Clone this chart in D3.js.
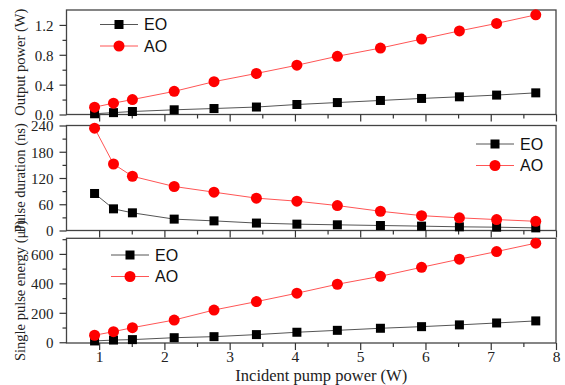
<!DOCTYPE html>
<html>
<head>
<meta charset="utf-8">
<script src="https://cdn.jsdelivr.net/npm/d3@7"></script>
<style>
  body { margin: 0; background: #fff; }
  svg { display: block; }
</style>
</head>
<body>
<div id="chart"></div>
<script>
// -- DATA --
var pumpPower  = [0.93, 1.22, 1.51, 2.15, 2.76, 3.41, 4.03, 4.65, 5.31, 5.94, 6.52, 7.09, 7.69]

var eoPower    = [0.01, 0.025, 0.04, 0.063, 0.08, 0.10, 0.134, 0.16, 0.188, 0.215, 0.237, 0.26, 0.29]
var aoPower    = [0.098, 0.152, 0.20, 0.31, 0.44, 0.55, 0.66, 0.78, 0.89, 1.01, 1.12, 1.22, 1.335]

var eoDuration = [84.6, 49.5, 40.4, 26, 22, 17, 14.5, 13, 11.4, 10, 8.4, 7.6, 6]
var aoDuration = [234, 152, 124, 100.6, 87.6, 74, 67, 57, 44, 34, 29, 25, 21]

var eoEnergy   = [9, 15, 18, 31, 38, 52, 68, 81, 95, 106, 118, 131, 145]
var aoEnergy   = [47.6, 72, 99, 151, 219, 276, 333, 394, 448, 509, 564, 616, 673]

var seriesNames = ['EO', 'AO']

var xTicks = [1, 2, 3, 4, 5, 6, 7, 8]

// -- LAYOUT --
var width = 565
var height = 385
var left = 66.5
var right = 556

var panels = [
  { top: 10, bottom: 114.5, domain: [0, 1.4], ticks: [0, 0.4, 0.8, 1.2], minor: [0.2, 0.6, 1.0],
    fmt: d3.format('.1f'), title: 'Output power (W)', eo: eoPower, ao: aoPower,
    legend: { x: 100, y: 24.5 } },
  { top: 125.5, bottom: 230.5, domain: [0, 240], ticks: [0, 60, 120, 180, 240], minor: [30, 90, 150, 210],
    fmt: d3.format('d'), title: 'Pulse duration (ns)', eo: eoDuration, ao: aoDuration,
    legend: { x: 476, y: 144 } },
  { top: 238.3, bottom: 343, domain: [-5, 706], ticks: [0, 200, 400, 600], minor: [100, 300, 500, 700],
    fmt: d3.format('d'), title: 'Single pulse energy (\u03bcJ)', eo: eoEnergy, ao: aoEnergy,
    legend: { x: 111, y: 255 } }
]

var svg = d3.select('#chart').append('svg')
  .attr('width', width)
  .attr('height', height)

var xMap = d3.scaleLinear()
  .domain([0.5, 8])
  .range([left, right])

var xMinor = d3.range(1.5, 8, 1)

function drawPanel(p, i) {
  var g = svg.append('g')

  var yMap = d3.scaleLinear()
    .domain(p.domain)
    .range([p.bottom, p.top])

  // frame
  g.append('rect')
    .attr('x', left)
    .attr('y', p.top)
    .attr('width', right - left)
    .attr('height', p.bottom - p.top)
    .style('fill', 'none')
    .style('stroke', '#444')
    .style('stroke-width', 1.3)

  // x axis
  var isLast = i == panels.length - 1
  var xAxis = d3.axisBottom(xMap)
    .tickValues(xTicks)
    .tickSize(7)
    .tickSizeOuter(0)
    .tickFormat(isLast ? d3.format('d') : '')

  var gx = g.append('g')
    .attr('transform', 'translate(0,' + p.bottom + ')')
    .call(xAxis)
  gx.select('.domain').remove()

  var gxm = g.append('g')
    .attr('transform', 'translate(0,' + p.bottom + ')')
    .call(d3.axisBottom(xMap).tickValues(xMinor).tickSize(4).tickFormat(''))
  gxm.select('.domain').remove()

  // y axis
  var gy = g.append('g')
    .attr('transform', 'translate(' + left + ',0)')
    .call(d3.axisLeft(yMap).tickValues(p.ticks).tickSize(7).tickSizeOuter(0).tickFormat(p.fmt))
  gy.select('.domain').remove()

  var gym = g.append('g')
    .attr('transform', 'translate(' + left + ',0)')
    .call(d3.axisLeft(yMap).tickValues(p.minor.filter(v => yMap(v) >= p.top)).tickSize(4).tickFormat(''))
  gym.select('.domain').remove()

  g.selectAll('.tick line')
    .style('stroke', '#333')
    .style('stroke-width', 1.2)

  gy.selectAll('text')
    .attr('x', -13)
    .attr('dy', '0.36em')
    .style('font-family', '"Liberation Serif", "DejaVu Serif", serif')
    .style('font-size', '15px')
    .style('fill', '#222')

  gx.selectAll('text')
    .attr('y', 19)
    .attr('dy', 0)
    .style('font-family', '"Liberation Serif", "DejaVu Serif", serif')
    .style('font-size', '15.5px')
    .style('fill', '#222')

  // y title
  g.append('text')
    .attr('transform', 'translate(25,' + ((p.top + p.bottom) / 2) + ') rotate(-90)')
    .style('font-family', '"Liberation Serif", "DejaVu Serif", serif')
    .style('font-size', '14.5px')
    .style('fill', '#222')
    .style('text-anchor', 'middle')
    .text(p.title)

  // series
  var line = d3.line()
    .x((d, j) => xMap(pumpPower[j]))
    .y(d => yMap(d))

  g.append('path')
    .datum(p.eo)
    .attr('d', line)
    .style('fill', 'none')
    .style('stroke', '#555')
    .style('stroke-width', 1)

  g.append('path')
    .datum(p.ao)
    .attr('d', line)
    .style('fill', 'none')
    .style('stroke', '#f55')
    .style('stroke-width', 1)

  g.selectAll('rect.eo')
    .data(p.eo)
    .enter().append('rect')
      .attr('class', 'eo')
      .attr('x', (d, j) => xMap(pumpPower[j]) - 4.5)
      .attr('y', d => yMap(d) - 4.5)
      .attr('width', 9)
      .attr('height', 9)
      .style('fill', '#000')

  g.selectAll('circle.ao')
    .data(p.ao)
    .enter().append('circle')
      .attr('class', 'ao')
      .attr('cx', (d, j) => xMap(pumpPower[j]))
      .attr('cy', d => yMap(d))
      .attr('r', 5.5)
      .style('fill', '#f00')

  // legend
  var gLeg = g.append('g')
    .attr('transform', 'translate(' + p.legend.x + ',' + p.legend.y + ')')

  seriesNames.forEach(function(name, k) {
    var y = k * 21.5
    gLeg.append('line')
      .attr('x1', 0).attr('x2', 38)
      .attr('y1', y).attr('y2', y)
      .style('stroke', k == 0 ? '#555' : '#f55')
      .style('stroke-width', 1)
    if (k == 0) {
      gLeg.append('rect')
        .attr('x', 19 - 4.5).attr('y', y - 4.5)
        .attr('width', 9).attr('height', 9)
        .style('fill', '#000')
    } else {
      gLeg.append('circle')
        .attr('cx', 19).attr('cy', y)
        .attr('r', 5.5)
        .style('fill', '#f00')
    }
    gLeg.append('text')
      .attr('x', 44)
      .attr('y', y)
      .attr('dy', '0.36em')
      .style('font-family', '"Liberation Sans", Arial, sans-serif')
      .style('font-size', '16px')
      .style('fill', '#111')
      .text(name)
  })
}

panels.forEach(drawPanel)

// x title
svg.append('text')
  .attr('x', (left + right) / 2 + 10)
  .attr('y', 381)
  .style('font-family', '"Liberation Serif", "DejaVu Serif", serif')
  .style('font-size', '16.5px')
  .style('fill', '#222')
  .style('text-anchor', 'middle')
  .text('Incident pump power (W)')
</script>
</body>
</html>
